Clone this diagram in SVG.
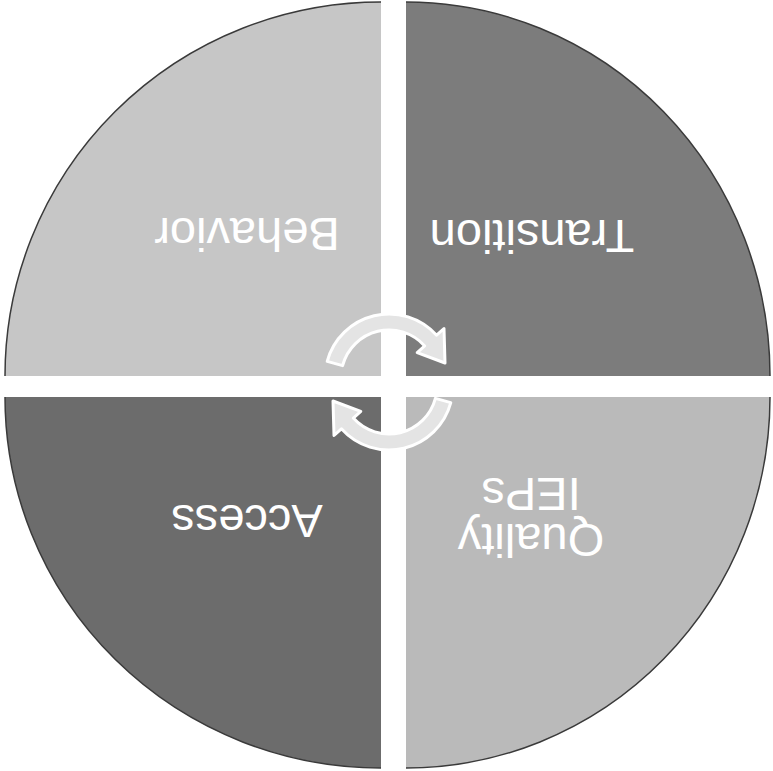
<svg xmlns="http://www.w3.org/2000/svg" width="773" height="771" viewBox="0 0 773 771">
<style>
.lbl{font-family:"Liberation Sans",Arial,sans-serif;font-size:47px;fill:#ffffff;text-anchor:middle}
.edge{fill:none;stroke:#3a3a3a;stroke-width:1.5}
.arrow{fill:#e4e4e4;stroke:#ffffff;stroke-width:3;stroke-linejoin:round}
</style>
<rect width="773" height="771" fill="#ffffff"/>
<g id="behavior">
<path d="M 381 376 L 381 2 A 376 374 0 0 0 5 376 Z" fill="#c6c6c6"/>
<path class="edge" d="M 381 2 A 376 374 0 0 0 5 376"/>
<text class="lbl" x="247" y="252" transform="rotate(180 247 235)">Behavior</text>
</g>
<g id="transition">
<path d="M 406 376 L 406 2 A 364 374 0 0 1 770 376 Z" fill="#7c7c7c"/>
<path class="edge" d="M 406 2 A 364 374 0 0 1 770 376"/>
<text class="lbl" x="532" y="254" transform="rotate(180 532 237)">Transition</text>
</g>
<g id="access">
<path d="M 381 397 L 5 397 A 376 371 0 0 0 381 768 Z" fill="#6c6c6c"/>
<path class="edge" d="M 5 397 A 376 371 0 0 0 381 768"/>
<text class="lbl" x="247" y="539" transform="rotate(180 247 522)">Access</text>
</g>
<g id="quality">
<path d="M 406 397 L 406 768 A 364 371 0 0 0 770 397 Z" fill="#bababa"/>
<path class="edge" d="M 406 768 A 364 371 0 0 0 770 397"/>
<text class="lbl" x="531" y="514" transform="rotate(180 531 519)">Quality</text>
<text class="lbl" x="531" y="560" transform="rotate(180 531 519)">IEPs</text>
</g>
<g id="connectors">
<path class="arrow" d="M 327.2 361.4 A 64 64 0 0 1 436.6 335.2 L 444 328.5 L 445 363 L 417.2 352.6 L 424.7 345.9 A 48 48 0 0 0 342.6 365.6 Z"/>
<path class="arrow" transform="rotate(180 389 382)" d="M 327.2 361.4 A 64 64 0 0 1 436.6 335.2 L 444 328.5 L 445 363 L 417.2 352.6 L 424.7 345.9 A 48 48 0 0 0 342.6 365.6 Z"/>
</g>
</svg>
